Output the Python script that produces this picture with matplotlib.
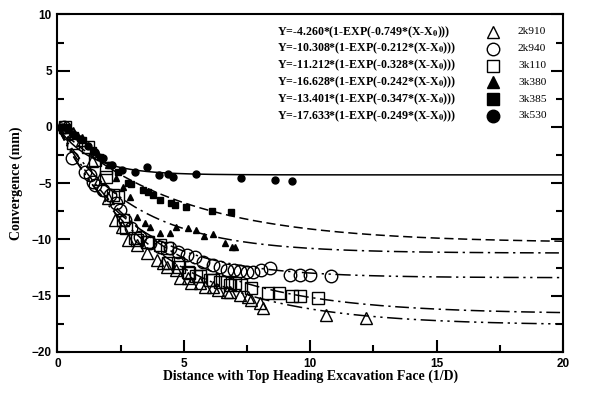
import numpy as np
import matplotlib.pyplot as plt
from matplotlib.ticker import MultipleLocator

# station names and fitted parameters Y = -A*(1-EXP(-k*(X-X0)))
stations = ["2k910", "2k940", "3k110", "3k380", "3k385", "3k530"]
eq_text = [
    "Y=-4.260*(1-EXP(-0.749*(X-X$_\\mathbf{0}$)))",
    "Y=-10.308*(1-EXP(-0.212*(X-X$_\\mathbf{0}$)))",
    "Y=-11.212*(1-EXP(-0.328*(X-X$_\\mathbf{0}$)))",
    "Y=-16.628*(1-EXP(-0.242*(X-X$_\\mathbf{0}$)))",
    "Y=-13.401*(1-EXP(-0.347*(X-X$_\\mathbf{0}$)))",
    "Y=-17.633*(1-EXP(-0.249*(X-X$_\\mathbf{0}$)))",
]
fit_A = [17.633, 13.401, 16.628, 11.212, 10.308, 4.260]
fit_k = [0.249, 0.347, 0.242, 0.328, 0.212, 0.749]
fit_dash = [(10, 3, 1.5, 3, 1.5, 3), (10, 3, 1.5, 3, 1.5, 3), (9, 3, 1.5, 3),
            (9, 3, 1.5, 3), (6, 3), None]

x_2k910 = [0.3, 0.6, 0.96, 1.35, 1.7, 2.0, 2.27, 2.54, 2.8, 3.13, 3.53, 3.92, 4.18, 4.32,
           4.71, 4.84, 5.17, 5.3, 5.63, 5.83, 6.16, 6.36, 6.69, 6.82, 7.21, 7.54, 7.67,
           8.0, 8.13, 10.64, 12.2]
y_2k910 = [0.0, -0.5, -1.15, -3.0, -4.6, -6.3, -8.26, -8.85, -10.04, -10.48, -11.22, -11.81,
           -12.1, -12.41, -12.7, -13.44, -13.44, -13.88, -13.88, -14.18, -14.18, -14.48,
           -14.63, -14.63, -14.92, -15.07, -15.36, -15.66, -16.1, -16.7, -16.96]

x_2k940 = [0.25, 0.45, 0.56, 1.09, 1.3, 1.42, 1.48, 1.8, 2.08, 2.3, 2.47, 2.67, 2.93, 3.26,
           3.66, 4.05, 4.45, 4.77, 5.11, 5.43, 5.76, 6.16, 6.42, 6.69, 7.0, 7.21, 7.5, 7.74,
           8.07, 8.4, 9.19, 9.58, 9.98, 10.84]
y_2k940 = [0.0, -0.6, -2.8, -3.97, -4.3, -4.86, -5.15, -5.6, -6.04, -6.8, -7.37, -8.26, -9.0,
           -9.74, -10.33, -10.68, -10.77, -11.07, -11.37, -11.52, -11.96, -12.26, -12.46,
           -12.7, -12.75, -12.79, -12.85, -12.85, -12.7, -12.5, -13.14, -13.14, -13.14, -13.29]

x_3k110 = [0.3, 0.6, 1.22, 1.48, 1.94, 1.94, 2.2, 2.4, 2.6, 2.73, 3.06, 3.13, 3.53, 3.59,
           4.05, 4.32, 4.38, 4.77, 4.81, 5.17, 5.21, 5.5, 5.63, 6.03, 6.16, 6.42, 6.69, 6.82,
           7.02, 7.28, 7.67, 8.33, 8.77, 9.26, 9.58, 10.31]
y_3k110 = [0.0, -1.45, -1.75, -2.93, -3.67, -4.41, -6.04, -6.19, -8.26, -9.0, -9.88, -10.04,
           -10.19, -10.19, -10.48, -10.77, -12.1, -12.1, -12.41, -12.85, -12.99, -13.29,
           -13.29, -13.59, -13.59, -13.74, -13.74, -14.03, -13.88, -14.03, -14.33, -14.72,
           -14.77, -14.98, -14.98, -15.21]

x_3k380 = [0.4, 0.8, 1.2, 1.6, 2.0, 2.3, 2.6, 2.87, 3.15, 3.46, 3.68, 4.05, 4.45, 4.71, 5.17,
           5.5, 5.79, 6.16, 6.62, 6.89, 7.02]
y_3k380 = [-0.2, -0.8, -1.6, -2.4, -3.4, -4.5, -5.3, -6.25, -7.96, -8.5, -8.85, -9.44, -9.44,
           -8.9, -8.94, -9.15, -9.68, -9.53, -10.33, -10.63, -10.68]

x_3k385 = [0.2, 0.36, 0.69, 1.0, 1.42, 1.68, 2.08, 2.4, 2.8, 2.9, 3.39, 3.59, 3.79, 4.05, 4.51,
           4.64, 5.08, 6.13, 6.85]
y_3k385 = [0.0, 0.0, -0.71, -1.2, -2.04, -2.64, -3.37, -4.0, -5.0, -5.1, -5.6, -5.74, -6.04,
           -6.48, -6.72, -6.93, -7.08, -7.43, -7.6]

x_3k530 = [0.2, 0.4, 0.6, 0.9, 1.2, 1.5, 1.8, 2.14, 2.54, 3.06, 3.55, 4.02, 4.38, 4.58, 5.5,
           7.28, 8.6, 9.28]
y_3k530 = [0.0, -0.2, -0.6, -1.1, -1.7, -2.2, -2.8, -3.37, -3.82, -3.97, -3.58, -4.26, -4.17,
           -4.41, -4.2, -4.56, -4.7, -4.77]

xs = [x_2k910, x_2k940, x_3k110, x_3k380, x_3k385, x_3k530]
ys = [y_2k910, y_2k940, y_3k110, y_3k380, y_3k385, y_3k530]
markers = ["^", "o", "s", "^", "s", "o"]
filled = [False, False, False, True, True, True]
msizes = [8, 9, 8.5, 5, 5, 5]

fig = plt.figure(figsize=(5.92, 4.0), dpi=100)
ax = fig.add_axes([0.097, 0.12, 0.854, 0.844])

xc = np.linspace(0, 20, 400)
for A, k, d in zip(fit_A, fit_k, fit_dash):
    line, = ax.plot(xc, -A * (1 - np.exp(-k * xc)), color="black", lw=1.1, zorder=2)
    if d is not None:
        line.set_dashes(d)

for x, y, m, f, s in zip(xs, ys, markers, filled, msizes):
    ax.plot(x, y, ls="none", marker=m, ms=s, mec="black", mew=1.0,
            mfc="black" if f else "none", zorder=3)

# legend: equation, marker, station
for i in range(6):
    yy = 0.948 - i * 0.0497
    ax.text(0.434, yy, eq_text[i], transform=ax.transAxes, fontsize=8.6,
            family="Liberation Serif", weight="bold", va="center", ha="left",
            math_fontfamily="stix")
    ax.plot(0.861, yy, transform=ax.transAxes, marker=markers[i], ms=9,
            mec="black", mew=1.0, mfc="black" if filled[i] else "none", ls="none")
    ax.text(0.911, yy, stations[i], transform=ax.transAxes, fontsize=8.2,
            family="Liberation Serif", va="center", ha="left")

ax.set_xlim(0, 20)
ax.set_ylim(-20, 10)
ax.xaxis.set_major_locator(MultipleLocator(5))
ax.xaxis.set_minor_locator(MultipleLocator(2.5))
ax.yaxis.set_major_locator(MultipleLocator(5))
ax.yaxis.set_minor_locator(MultipleLocator(2.5))
ax.tick_params(which="both", direction="in", right=True, top=False, width=1.5)
ax.tick_params(which="major", length=9)
ax.tick_params(which="minor", length=5)
ax.tick_params(labelsize=8.5, pad=4)
for lab in ax.get_xticklabels() + ax.get_yticklabels():
    lab.set_fontweight("bold")
    lab.set_family("Liberation Sans")
for sp in ax.spines.values():
    sp.set_linewidth(1.5)

ax.set_xlabel("Distance with Top Heading Excavation Face (1/D)", family="Liberation Serif",
              weight="bold", fontsize=10, labelpad=0)
ax.set_ylabel("Convergence (mm)", family="Liberation Serif", weight="bold", fontsize=10,
              labelpad=6)

fig.savefig("out.png", dpi=100)
